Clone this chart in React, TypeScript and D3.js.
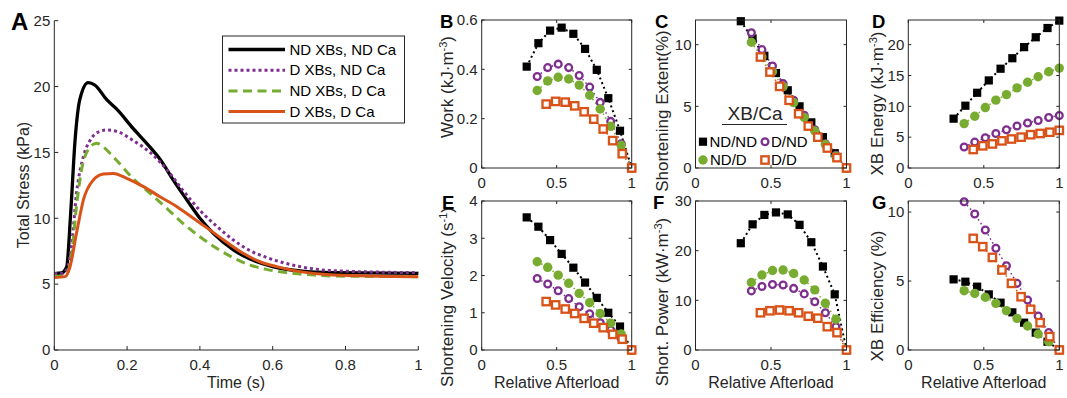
import React from "react";
import * as d3 from "d3";

// ---------- Panel A data (time courses) ----------
const tNDND = [0, 0.02, 0.034, 0.045, 0.057, 0.07, 0.093, 0.112, 0.144, 0.171, 0.217, 0.263, 0.29, 0.327, 0.364, 0.4, 0.437, 0.492, 0.538, 0.6, 0.675, 0.766, 1.0];
const sNDND = [5.8, 5.85, 6.3, 10.4, 15.9, 19.0, 20.3, 20.1, 19.0, 18.3, 16.8, 15.4, 14.5, 12.9, 11.4, 10.0, 8.86, 7.6, 6.9, 6.33, 6.0, 5.87, 5.82];
const tDND = [0, 0.02, 0.034, 0.048, 0.061, 0.08, 0.098, 0.125, 0.144, 0.171, 0.217, 0.263, 0.309, 0.354, 0.4, 0.446, 0.492, 0.538, 0.583, 0.675, 0.766, 1.0];
const sDND = [5.8, 5.8, 6.1, 8.1, 11.9, 14.7, 15.9, 16.6, 16.7, 16.6, 15.9, 15.0, 13.7, 12.1, 10.6, 9.4, 8.35, 7.54, 7.03, 6.33, 6.02, 5.87];
const tNDD = [0, 0.02, 0.034, 0.048, 0.061, 0.075, 0.093, 0.116, 0.135, 0.171, 0.217, 0.263, 0.309, 0.354, 0.4, 0.446, 0.492, 0.538, 0.583, 0.675, 0.766, 1.0];
const sNDD = [5.6, 5.6, 5.8, 7.3, 10.9, 13.7, 15.2, 15.7, 15.4, 14.4, 13.0, 11.9, 10.75, 9.6, 8.6, 7.72, 7.0, 6.45, 6.12, 5.77, 5.62, 5.57];
const tDD = [0, 0.03, 0.043, 0.061, 0.08, 0.107, 0.135, 0.162, 0.199, 0.245, 0.29, 0.336, 0.382, 0.428, 0.473, 0.519, 0.565, 0.611, 0.675, 0.766, 1.0];
const sDD = [5.5, 5.57, 6.3, 8.86, 11.4, 12.9, 13.36, 13.4, 13.03, 12.4, 11.64, 10.9, 10.0, 9.1, 8.2, 7.34, 6.7, 6.33, 5.95, 5.7, 5.57];
const legendA = ["ND XBs, ND Ca", "D XBs, ND Ca", "ND XBs, D Ca", "D XBs, D Ca"];

// ---------- Relative afterload values ----------
const xNDND = [0.30, 0.378, 0.456, 0.533, 0.611, 0.689, 0.767, 0.844, 0.922, 1.0];
const xDND = [0.37, 0.44, 0.51, 0.58, 0.65, 0.72, 0.79, 0.86, 0.93, 1.0];
const xNDD = [0.37, 0.44, 0.51, 0.58, 0.65, 0.72, 0.79, 0.86, 0.93, 1.0];
const xDD = [0.43, 0.493, 0.557, 0.62, 0.683, 0.747, 0.81, 0.873, 0.937, 1.0];

// B: Work
const workNDND = [0.411, 0.506, 0.557, 0.569, 0.544, 0.483, 0.398, 0.283, 0.151, 0];
const workDND = [0.371, 0.407, 0.421, 0.407, 0.375, 0.328, 0.266, 0.189, 0.098, 0];
const workNDD = [0.314, 0.353, 0.368, 0.361, 0.336, 0.295, 0.239, 0.169, 0.092, 0];
const workDD = [0.259, 0.270, 0.267, 0.252, 0.228, 0.198, 0.158, 0.111, 0.058, 0];
// C: Shortening extent
const extNDND = [11.9, 10.5, 9.1, 7.7, 6.3, 5.0, 3.7, 2.5, 1.2, 0];
const extDND = [10.97, 9.6, 8.27, 6.84, 5.49, 4.27, 3.1, 1.97, 1.03, 0];
const extNDD = [10.2, 9.0, 7.8, 6.6, 5.3, 4.1, 3.0, 1.9, 0.95, 0];
const extDD = [9.0, 7.78, 6.62, 5.49, 4.4, 3.4, 2.5, 1.62, 0.84, 0];
// D: XB energy
const enNDND = [8.0, 10.1, 12.2, 14.2, 16.1, 17.8, 19.6, 21.2, 22.7, 23.9];
const enDND = [3.4, 4.2, 4.9, 5.6, 6.2, 6.8, 7.3, 7.7, 8.2, 8.5];
const enNDD = [7.2, 8.4, 9.8, 11.0, 11.9, 13.0, 13.9, 14.8, 15.6, 16.2];
const enDD = [3.0, 3.6, 3.9, 4.4, 4.7, 5.0, 5.4, 5.6, 5.8, 6.1];
// E: Shortening velocity
const velNDND = [3.56, 3.31, 2.95, 2.58, 2.21, 1.81, 1.40, 1.0, 0.63, 0];
const velDND = [1.92, 1.77, 1.59, 1.38, 1.16, 0.97, 0.73, 0.54, 0.31, 0];
const velNDD = [2.37, 2.22, 2.01, 1.79, 1.52, 1.27, 0.98, 0.72, 0.43, 0];
const velDD = [1.30, 1.21, 1.10, 0.98, 0.85, 0.72, 0.60, 0.42, 0.29, 0];
// F: Shortening power
const powNDND = [21.5, 25.3, 27.2, 27.7, 27.3, 25.2, 21.7, 16.8, 11.2, 0];
const powDND = [11.9, 12.8, 13.2, 13.1, 12.4, 11.3, 9.7, 7.5, 4.7, 0];
const powNDD = [13.6, 15.1, 16.0, 16.1, 15.4, 14.1, 12.1, 9.4, 6.2, 0];
const powDD = [7.5, 7.9, 8.05, 7.9, 7.5, 6.8, 6.4, 4.7, 3.5, 0];
// G: XB efficiency
const effNDND = [5.12, 4.95, 4.59, 4.03, 3.43, 2.73, 1.98, 1.26, 0.6, 0];
const effDND = [10.75, 9.86, 8.7, 7.37, 6.11, 4.83, 3.62, 2.46, 1.26, 0];
const effNDD = [4.3, 4.1, 3.82, 3.38, 2.85, 2.29, 1.74, 1.16, 0.6, 0];
const effDD = [8.09, 7.49, 6.71, 5.8, 4.83, 3.86, 2.95, 1.98, 0.97, 0];

const legendC = ["ND/ND", "D/ND", "ND/D", "D/D"];

const xTicksSmall = [0, 0.5, 1];
const xTicksA = [0, 0.2, 0.4, 0.6, 0.8, 1];
const yTicksA = [0, 5, 10, 15, 20, 25];

const BLACK = "#000000";
const PURPLE = "#7E2F8E";
const GREEN = "#77AC30";
const ORANGE = "#D95319";
const AX = "#262626";
const FONT = "'Liberation Sans', Arial, Helvetica, sans-serif";

type Kind = "sq" | "circ" | "dot" | "osq";

function Marker({ kind, cx, cy }: { kind: Kind; cx: number; cy: number }) {
  if (kind === "sq") return <rect x={cx - 4.1} y={cy - 4.1} width={8.2} height={8.2} fill={BLACK} />;
  if (kind === "circ") return <circle cx={cx} cy={cy} r={3.4} fill="#fff" stroke={PURPLE} strokeWidth={2.3} />;
  if (kind === "dot") return <circle cx={cx} cy={cy} r={4.7} fill={GREEN} />;
  return <rect x={cx - 3.7} y={cy - 3.7} width={7.4} height={7.4} fill="#fff" stroke={ORANGE} strokeWidth={2.3} />;
}

type Ser = { xs: number[]; ys: number[]; color: string; kind: Kind };

function fmt(v: number) {
  return String(+v.toFixed(3));
}

function SmallPanel(props: {
  px: [number, number];
  py: [number, number];
  yd: [number, number];
  yt: number[];
  series: Ser[];
}) {
  const { px, py, yd, yt, series } = props;
  const x = d3.scaleLinear().domain([0, 1]).range(px);
  const y = d3.scaleLinear().domain(yd).range([py[1], py[0]]);
  const line = d3
    .line<[number, number]>()
    .x((d) => x(d[0]))
    .y((d) => y(d[1]));
  const tl = 3;
  return (
    <g>
      <rect x={px[0]} y={py[0]} width={px[1] - px[0]} height={py[1] - py[0]} fill="#fff" stroke="none" />
      {series.map((s, i) => (
        <path
          key={"l" + i}
          d={line(s.xs.map((v, j) => [v, s.ys[j]] as [number, number])) || ""}
          fill="none"
          stroke={s.color}
          strokeWidth={s.kind === "sq" ? 2 : 1.5}
          strokeDasharray={s.kind === "sq" ? "2,3" : "1.5,3"}
        />
      ))}
      {series.map((s, i) => (
        <g key={"m" + i}>
          {s.xs.map((v, j) => (
            <Marker key={j} kind={s.kind} cx={x(v)} cy={y(s.ys[j])} />
          ))}
        </g>
      ))}
      <rect x={px[0]} y={py[0]} width={px[1] - px[0]} height={py[1] - py[0]} fill="none" stroke={AX} strokeWidth={1} />
      {xTicksSmall.map((t) => (
        <g key={"xt" + t}>
          <line x1={x(t)} x2={x(t)} y1={py[1]} y2={py[1] - tl} stroke={AX} />
          <line x1={x(t)} x2={x(t)} y1={py[0]} y2={py[0] + tl} stroke={AX} />
          <text x={x(t)} y={py[1] + 19.5} textAnchor="middle" fontSize={15} fill={AX}>
            {fmt(t)}
          </text>
        </g>
      ))}
      {yt.map((t) => (
        <g key={"yt" + t}>
          <line x1={px[0]} x2={px[0] + tl} y1={y(t)} y2={y(t)} stroke={AX} />
          <line x1={px[1]} x2={px[1] - tl} y1={y(t)} y2={y(t)} stroke={AX} />
          <text x={px[0] - 4} y={y(t)} dy="0.35em" textAnchor="end" fontSize={15} fill={AX}>
            {fmt(t)}
          </text>
        </g>
      ))}
    </g>
  );
}

function YLabel({ bx, cy, text, sup, tail, size = 17 }: { bx: number; cy: number; text: string; sup?: string; tail?: string; size?: number }) {
  return (
    <text transform={`translate(${bx},${cy}) rotate(-90)`} textAnchor="middle" fontSize={size} fill={AX}>
      {text}
      {sup ? (
        <tspan fontSize={11} dy={-6}>
          {sup}
        </tspan>
      ) : null}
      {tail ? <tspan dy={sup ? 6 : 0}>{tail}</tspan> : null}
    </text>
  );
}

function mk(xs: number[], ys: number[], color: string, kind: Kind): Ser {
  return { xs, ys, color, kind };
}

function PanelA() {
  const px: [number, number] = [54.3, 418.3];
  const py: [number, number] = [20.7, 350];
  const x = d3.scaleLinear().domain([0, 1]).range(px);
  const y = d3.scaleLinear().domain([0, 25]).range([py[1], py[0]]);
  const line = d3
    .line<[number, number]>()
    .x((d) => x(d[0]))
    .y((d) => y(d[1]))
    .curve(d3.curveMonotoneX);
  const curves = [
    { t: tNDND, s: sNDND, color: BLACK, dash: undefined as string | undefined, w: 3.3 },
    { t: tDND, s: sDND, color: PURPLE, dash: "3,3", w: 3 },
    { t: tNDD, s: sNDD, color: GREEN, dash: "9,5.5", w: 3 },
    { t: tDD, s: sDD, color: ORANGE, dash: undefined, w: 3 },
  ];
  const tl = 4;
  return (
    <g>
      {curves.map((c, i) => (
        <path
          key={i}
          d={line(c.t.map((v, j) => [v, c.s[j]] as [number, number])) || ""}
          fill="none"
          stroke={c.color}
          strokeWidth={c.w}
          strokeDasharray={c.dash}
        />
      ))}
      <line x1={px[0]} x2={px[0]} y1={py[0]} y2={py[1]} stroke={AX} />
      <line x1={px[0]} x2={px[1]} y1={py[1]} y2={py[1]} stroke={AX} />
      {xTicksA.map((t) => (
        <g key={"x" + t}>
          <line x1={x(t)} x2={x(t)} y1={py[1]} y2={py[1] - tl} stroke={AX} />
          <text x={x(t)} y={py[1] + 19.5} textAnchor="middle" fontSize={15} fill={AX}>
            {fmt(t)}
          </text>
        </g>
      ))}
      {yTicksA.map((t) => (
        <g key={"y" + t}>
          <line x1={px[0]} x2={px[0] + tl} y1={y(t)} y2={y(t)} stroke={AX} />
          <text x={px[0] - 4} y={y(t)} dy="0.35em" textAnchor="end" fontSize={15} fill={AX}>
            {fmt(t)}
          </text>
        </g>
      ))}
      {/* legend */}
      <rect x={222.5} y={36} width={182} height={87} fill="#fff" stroke={AX} strokeWidth={1} />
      {curves.map((c, i) => {
        const cy = 49.5 + i * 20.7;
        return (
          <g key={"lg" + i}>
            <line x1={228.5} x2={285} y1={cy} y2={cy} stroke={c.color} strokeWidth={c.w} strokeDasharray={c.dash} />
            <text x={289.5} y={cy} dy="0.35em" fontSize={15} fill={BLACK}>
              {legendA[i]}
            </text>
          </g>
        );
      })}
      <text x={236} y={388} textAnchor="middle" fontSize={16} fill={AX}>
        Time (s)
      </text>
      <YLabel bx={29.3} cy={185} text="Total Stress (kPa)" size={16} />
    </g>
  );
}

export default function App() {
  const col1: [number, number] = [481.7, 631.7];
  const col2: [number, number] = [695.5, 846.5];
  const col3: [number, number] = [908.3, 1059.3];
  const row1: [number, number] = [20, 168];
  const row2: [number, number] = [201, 350];
  const letter = (s: string, x: number, y: number, size = 18.5) => (
    <text x={x} y={y} fontSize={size} fontWeight="bold" fill={BLACK}>
      {s}
    </text>
  );
  return (
    <svg
      width={1067}
      height={398}
      viewBox="0 0 1067 398"
      style={{ position: "absolute", left: 0, top: 0, background: "#fff", fontFamily: FONT }}
    >
      <rect x={0} y={0} width={1067} height={398} fill="#fff" />
      <PanelA />
      <SmallPanel
        px={col1}
        py={row1}
        yd={[0, 0.6]}
        yt={[0, 0.2, 0.4, 0.6]}
        series={[mk(xNDND, workNDND, BLACK, "sq"), mk(xDND, workDND, PURPLE, "circ"), mk(xNDD, workNDD, GREEN, "dot"), mk(xDD, workDD, ORANGE, "osq")]}
      />
      <SmallPanel
        px={col2}
        py={row1}
        yd={[0, 12]}
        yt={[0, 5, 10]}
        series={[mk(xNDND, extNDND, BLACK, "sq"), mk(xDND, extDND, PURPLE, "circ"), mk(xNDD, extNDD, GREEN, "dot"), mk(xDD, extDD, ORANGE, "osq")]}
      />
      <SmallPanel
        px={col3}
        py={row1}
        yd={[0, 24]}
        yt={[0, 5, 10, 15, 20]}
        series={[mk(xNDND, enNDND, BLACK, "sq"), mk(xDND, enDND, PURPLE, "circ"), mk(xNDD, enNDD, GREEN, "dot"), mk(xDD, enDD, ORANGE, "osq")]}
      />
      <SmallPanel
        px={col1}
        py={row2}
        yd={[0, 4]}
        yt={[0, 1, 2, 3, 4]}
        series={[mk(xNDND, velNDND, BLACK, "sq"), mk(xDND, velDND, PURPLE, "circ"), mk(xNDD, velNDD, GREEN, "dot"), mk(xDD, velDD, ORANGE, "osq")]}
      />
      <SmallPanel
        px={col2}
        py={row2}
        yd={[0, 30]}
        yt={[0, 10, 20, 30]}
        series={[mk(xNDND, powNDND, BLACK, "sq"), mk(xDND, powDND, PURPLE, "circ"), mk(xNDD, powNDD, GREEN, "dot"), mk(xDD, powDD, ORANGE, "osq")]}
      />
      <SmallPanel
        px={col3}
        py={row2}
        yd={[0, 10.8]}
        yt={[0, 5, 10]}
        series={[mk(xNDND, effNDND, BLACK, "sq"), mk(xDND, effDND, PURPLE, "circ"), mk(xNDD, effNDD, GREEN, "dot"), mk(xDD, effDD, ORANGE, "osq")]}
      />

      {/* legend in C */}
      <text x={755} y={120} textAnchor="middle" fontSize={19} fill={AX}>
        XB/Ca
      </text>
      <line x1={722} x2={787} y1={124.5} y2={124.5} stroke={AX} strokeWidth={1} />
      <Marker kind="sq" cx={703} cy={141.7} />
      <text x={709.5} y={141.7} dy="0.35em" fontSize={15} fill={BLACK}>{legendC[0]}</text>
      <Marker kind="circ" cx={765} cy={141.7} />
      <text x={771} y={141.7} dy="0.35em" fontSize={15} fill={BLACK}>{legendC[1]}</text>
      <Marker kind="dot" cx={703} cy={160} />
      <text x={710} y={160} dy="0.35em" fontSize={15} fill={BLACK}>{legendC[2]}</text>
      <Marker kind="osq" cx={765} cy={160} />
      <text x={771} y={160} dy="0.35em" fontSize={15} fill={BLACK}>{legendC[3]}</text>

      {/* y labels */}
      <YLabel bx={453} cy={87} text="Work (kJ·m" sup="-3" tail=")" />
      <YLabel bx={668} cy={111} text="Shortening Extent(%)" />
      <YLabel bx={883} cy={103.5} text="XB Energy (kJ·m" sup="-3" tail=")" />
      <YLabel bx={453} cy={297} text="Shortening Velocity (s" sup="-1" tail=")" />
      <YLabel bx={668} cy={302} text="Short. Power (kW·m" sup="-3" tail=")" />
      <YLabel bx={883} cy={296} text="XB Efficiency (%)" />

      {/* x labels */}
      {[col1, col2, col3].map((c, i) => (
        <text key={i} x={(c[0] + c[1]) / 2} y={388} textAnchor="middle" fontSize={16} fill={AX}>
          Relative Afterload
        </text>
      ))}

      {/* panel letters */}
      {letter("A", 11, 29.5, 24)}
      {letter("B", 440, 28)}
      {letter("C", 655, 28)}
      {letter("D", 872, 28)}
      {letter("E", 442, 209)}
      {letter("F", 653, 209)}
      {letter("G", 872, 209)}
    </svg>
  );
}
